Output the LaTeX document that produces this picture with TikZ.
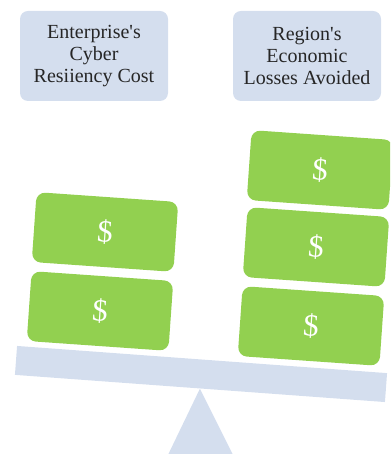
\documentclass[tikz,border=0pt]{standalone}
\usepackage{fontspec}
\setmainfont{Liberation Serif}
\usetikzlibrary{positioning}

\definecolor{panel}{HTML}{D4DEEE}
\definecolor{money}{HTML}{92D050}
\definecolor{ink}{HTML}{262626}

\begin{document}
\begin{tikzpicture}[x=1pt,y=1pt,
    label/.style={rectangle,rounded corners=8pt,fill=panel,minimum width=148pt,minimum height=90pt,
        align=center,text=ink,font=\fontsize{20}{22}\selectfont},
    bill/.style={rectangle,rounded corners=9pt,fill=money,minimum width=142pt,minimum height=70pt,
        rotate=-4,text=white,font=\fontsize{31}{31}\selectfont},
    beamstyle/.style={rectangle,fill=panel,minimum width=371pt,minimum height=29pt,rotate=-4.2,inner sep=0pt}]
    \clip (0,0) rectangle (390,454);
    \useasboundingbox (0,0) rectangle (390,454);

    % headings
    \node[label] (cost) at (94,398) {Enterprise\textquotesingle s\\Cyber\\Resiiency Cost};
    \node[label] (loss) at (307,398) {Region\textquotesingle s\\Economic\\Losses Avoided};

    % beam and stand
    \node[beamstyle] (beam) at (201,80) {};
    \fill[panel] (beam.south) -- (166,-5) -- (235,-5) -- cycle;

    % bills on the left
    \node[bill] (left1) at (105,222) {\$};
    \node[bill] (left2) at (100,143) {\$};

    % bills on the right
    \node[bill] (right1) at (320,284) {\$};
    \node[bill] (right2) at (316,207) {\$};
    \node[bill] (right3) at (311,128) {\$};
\end{tikzpicture}
\end{document}
